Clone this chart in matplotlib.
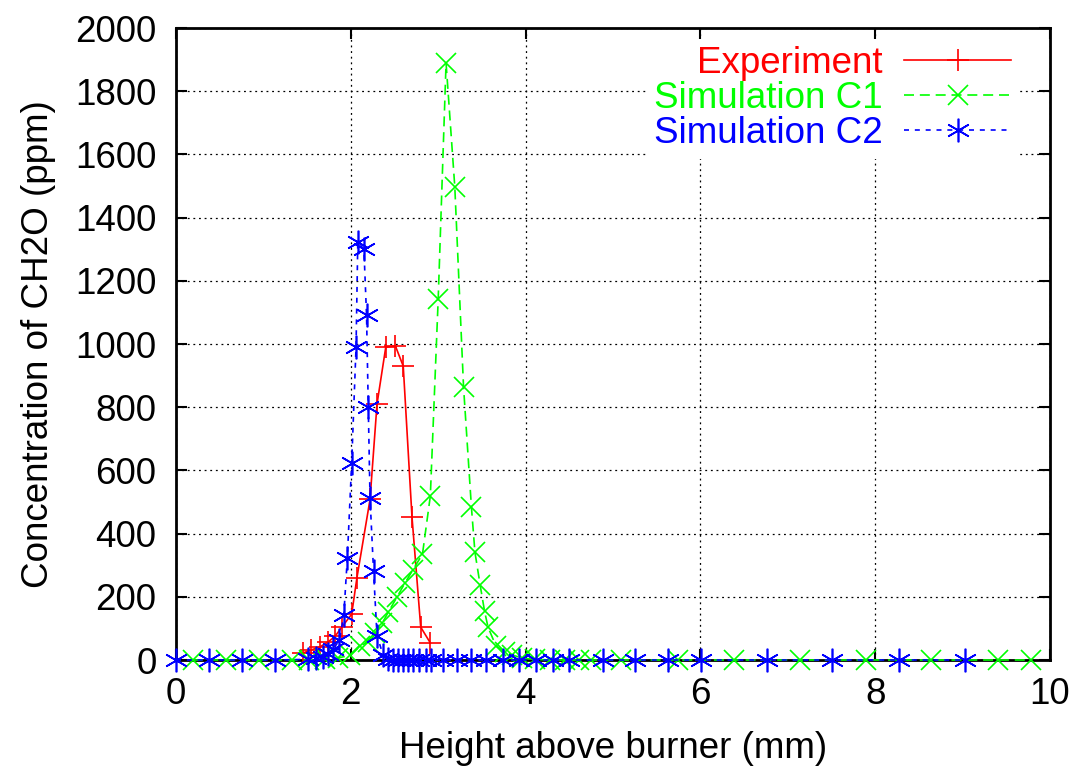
import matplotlib
matplotlib.use("Agg")
import matplotlib.pyplot as plt

plt.rcParams["font.family"] = ["Liberation Sans", "DejaVu Sans"]

# Experiment (red, solid, +)
exp_x = [1.45, 1.55, 1.65, 1.74, 1.82, 1.90, 2.01, 2.07, 2.22, 2.30, 2.40, 2.51, 2.60, 2.70, 2.80, 2.91]
exp_y = [22, 32, 42, 57, 75, 105, 145, 260, 508, 810, 990, 994, 930, 453, 104, 54]

# Simulation C1 (green, dashed, x)
c1_x = [0.19, 0.57, 0.95, 1.33, 1.52, 1.71, 1.85, 1.99, 2.11, 2.20, 2.28, 2.36, 2.43,
        2.53, 2.62, 2.71, 2.82, 2.91, 3.00, 3.09, 3.19, 3.29, 3.38, 3.42, 3.48, 3.53,
        3.57, 3.66, 3.76, 3.85, 3.96, 4.11, 4.28, 4.45, 4.61, 4.75, 5.09, 5.74, 6.39,
        7.14, 7.89, 8.64, 9.40, 9.78]
c1_y = [0, 0, 0, 0, 0, 2, 6, 15, 45, 57, 85, 117, 152,
        200, 244, 285, 335, 519, 1142, 1889, 1497, 864, 484, 342, 237, 155,
        104, 45, 25, 16, 6, 2, 0, 0, 0, 0, 0, 0, 0,
        0, 0, 0, 0, 0]

# Simulation C2 (blue, short dashes, *)
c2_x = [0.0, 0.38, 0.76, 1.13, 1.51, 1.60, 1.68, 1.74, 1.80, 1.87, 1.92, 1.96, 2.01,
        2.06, 2.08, 2.15, 2.18, 2.20, 2.22, 2.26, 2.30, 2.37, 2.43, 2.48, 2.54, 2.60,
        2.66, 2.71, 2.78, 2.86, 2.92, 3.06, 3.21, 3.38, 3.55, 3.74, 3.93, 4.12, 4.31,
        4.50, 4.88, 5.25, 5.63, 6.01, 6.76, 7.51, 8.27, 9.03]
c2_y = [0, 0, 0, 0, 2, 6, 10, 18, 35, 63, 142, 322, 623,
        990, 1323, 1300, 1092, 800, 513, 283, 77, 15, 3, 0, 0, 0,
        0, 0, 0, 0, 0, 0, 0, 0, 0, 0, 0, 0, 0,
        0, 0, 0, 0, 0, 0, 0, 0, 0]

x_ticks = [0, 2, 4, 6, 8, 10]
y_ticks = [0, 200, 400, 600, 800, 1000, 1200, 1400, 1600, 1800, 2000]

FS = 26.5

fig = plt.figure(figsize=(10.77, 7.75), dpi=100)
ax = fig.add_axes([176 / 1077, 1 - 660 / 775, 874 / 1077, 632 / 775])

ax.plot(exp_x, exp_y, color="#ff0000", linestyle="-", linewidth=1.2,
        marker="+", markersize=16, markeredgewidth=1.2, clip_on=False,
        label="Experiment", zorder=3)
ax.plot(c1_x, c1_y, color="#00ff00", linestyle=(0, (6, 3.5)), linewidth=1.2,
        marker="x", markersize=14, markeredgewidth=1.2, clip_on=False,
        label="Simulation C1", zorder=3)
ax.plot(c2_x, c2_y, color="#0000ff", linestyle=(0, (3, 3.5)), linewidth=1.2,
        marker=(6, 2, 0), markersize=17, markeredgewidth=1.2, clip_on=False,
        label="Simulation C2", zorder=4)

ax.set_xlim(0, 10)
ax.set_ylim(0, 2000)
ax.set_xticks(x_ticks)
ax.set_yticks(y_ticks)
ax.tick_params(direction="in", length=8, width=1.5, labelsize=FS,
               top=True, right=True)
ax.tick_params(axis="x", pad=12)
ax.tick_params(axis="y", pad=14)
for s in ax.spines.values():
    s.set_linewidth(2)

ax.set_axisbelow(True)
ax.grid(True, color="black", linestyle=(0, (1.5, 3)), linewidth=0.9)

ax.set_xlabel("Height above burner (mm)", fontsize=FS, labelpad=14)
ax.set_ylabel("Concentration of CH2O (ppm)", fontsize=FS, labelpad=14)

leg = ax.legend(loc="upper right", bbox_to_anchor=(0.985, 1.012),
                markerfirst=False, numpoints=1, handlelength=2.9,
                handletextpad=0.6, labelspacing=0.0, borderpad=0.2,
                fontsize=FS, frameon=True, fancybox=False)
leg.get_frame().set_facecolor("white")
leg.get_frame().set_edgecolor("none")
leg.get_frame().set_alpha(1)
for t, c in zip(leg.get_texts(), ["#ff0000", "#00ff00", "#0000ff"]):
    t.set_color(c)

plt.savefig("out.png", dpi=100)
plt.close()
